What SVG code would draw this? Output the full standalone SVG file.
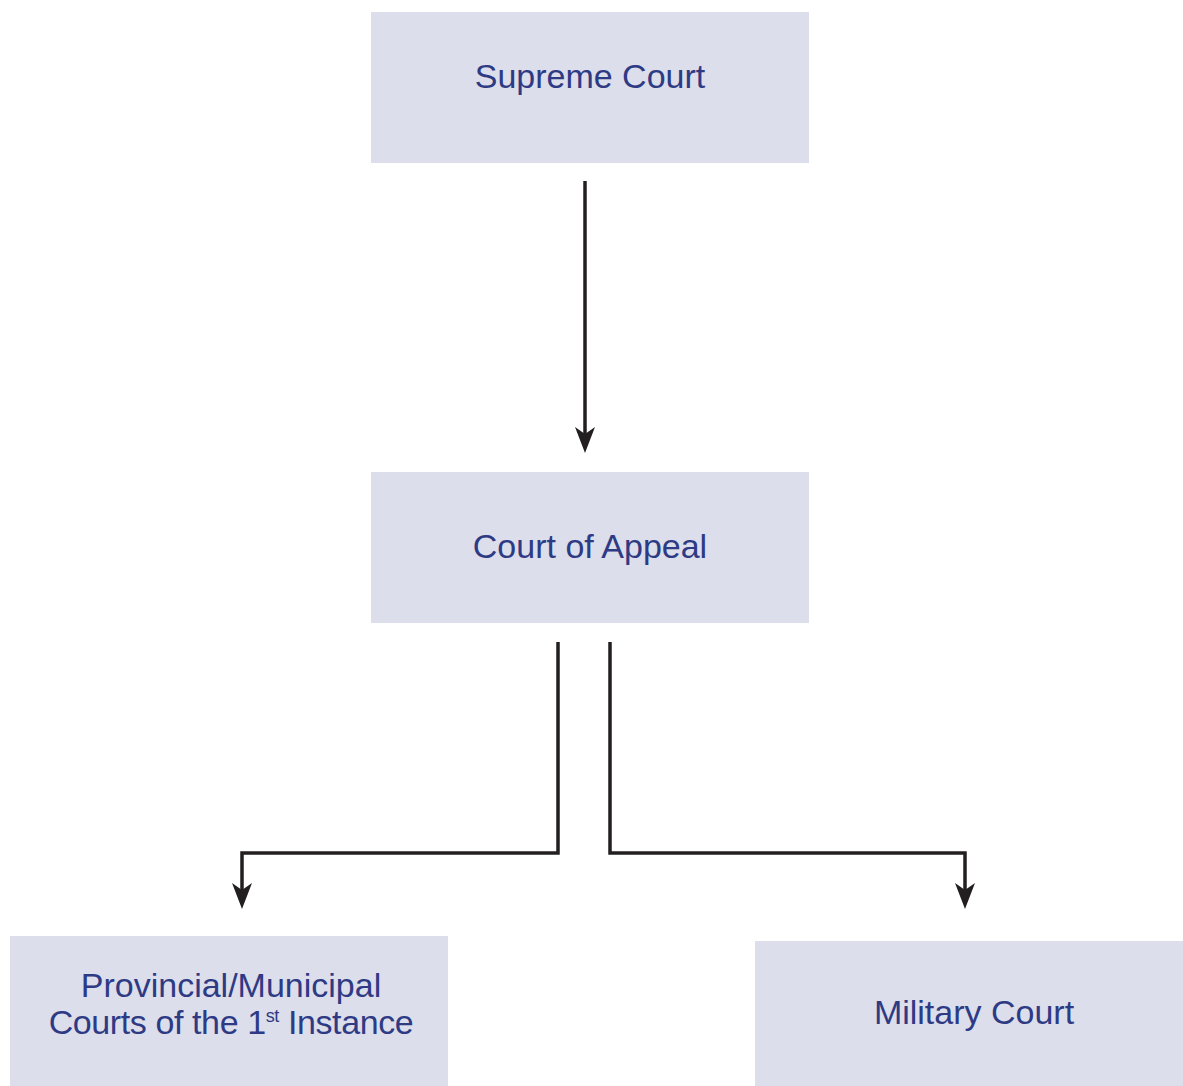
<svg xmlns="http://www.w3.org/2000/svg" width="1183" height="1086" viewBox="0 0 1183 1086">
<defs>
<style>
.box{fill:#DCDEEB;}
.lbl{font-family:"Liberation Sans",Arial,sans-serif;font-size:34px;fill:#2E3A84;text-anchor:middle;}
.con{fill:none;stroke:#231F20;stroke-width:3.5;}
.head{fill:#231F20;}
</style>
</defs>
<rect width="1183" height="1086" fill="#FFFFFF"/>
<g id="supreme-court"><rect class="box" x="371" y="12" width="438" height="151"/><text class="lbl" x="590" y="88">Supreme Court</text></g>
<g id="court-of-appeal"><rect class="box" x="371" y="472" width="438" height="151"/><text class="lbl" x="590" y="558">Court of Appeal</text></g>
<g id="provincial-courts"><rect class="box" x="10" y="936" width="438" height="150"/><text class="lbl" x="231" y="997">Provincial/Municipal</text><text class="lbl" x="231" y="1034" letter-spacing="-0.4">Courts of the 1<tspan font-size="18" dy="-12">st</tspan><tspan dy="12"> Instance</tspan></text></g>
<g id="military-court"><rect class="box" x="755" y="941" width="428" height="145"/><text class="lbl" x="974" y="1024">Military Court</text></g>
<g id="connectors">
<path class="con" d="M585,181 V445"/>
<path class="con" d="M558,642 V853 H242 V900"/>
<path class="con" d="M610,642 V853 H965 V900"/>
<path class="head" d="M575,427 L585,434 L595,427 L585,453 Z"/>
<path class="head" d="M232,883 L242,890 L252,883 L242,909 Z"/>
<path class="head" d="M955,883 L965,890 L975,883 L965,909 Z"/>
</g>
</svg>
